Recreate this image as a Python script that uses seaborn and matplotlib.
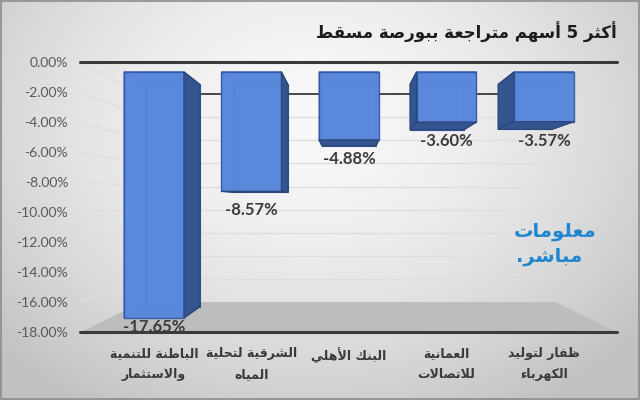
import numpy as np
import pandas as pd
import matplotlib
matplotlib.use("Agg")
import matplotlib.pyplot as plt
import seaborn as sns
from matplotlib.patches import Polygon, Rectangle

# ---------------- data ----------------
categories = ["الباطنة للتنمية\nوالاستثمار", "الشرقية لتحلية\nالمياه", "البنك الأهلي",
              "العمانية\nللاتصالات", "ظفار لتوليد\nالكهرباء"]
values = [-17.65, -8.57, -4.88, -3.60, -3.57]
value_labels = ["-17.65%", "-8.57%", "-4.88%", "-3.60%", "-3.57%"]
y_ticks = [0, -2, -4, -6, -8, -10, -12, -14, -16, -18]
y_tick_labels = ["0.00%", "-2.00%", "-4.00%", "-6.00%", "-8.00%", "-10.00%",
                 "-12.00%", "-14.00%", "-16.00%", "-18.00%"]
title_text = "أكثر 5 أسهم متراجعة ببورصة مسقط"
logo_lines = ["معلومات", "مباشر."]

# ---------------- minimal Arabic shaping (presentation forms + RTL) ----------------
DUAL = {'ئ': 0xFE89, 'ب': 0xFE8F, 'ت': 0xFE95, 'ث': 0xFE99, 'ج': 0xFE9D, 'ح': 0xFEA1,
        'خ': 0xFEA5, 'س': 0xFEB1, 'ش': 0xFEB5, 'ص': 0xFEB9, 'ض': 0xFEBD, 'ط': 0xFEC1,
        'ظ': 0xFEC5, 'ع': 0xFEC9, 'غ': 0xFECD, 'ف': 0xFED1, 'ق': 0xFED5, 'ك': 0xFED9,
        'ل': 0xFEDD, 'م': 0xFEE1, 'ن': 0xFEE5, 'ه': 0xFEE9, 'ي': 0xFEF1}
RIGHT = {'آ': 0xFE81, 'أ': 0xFE83, 'ؤ': 0xFE85, 'إ': 0xFE87, 'ا': 0xFE8D, 'ة': 0xFE93,
         'د': 0xFEA9, 'ذ': 0xFEAB, 'ر': 0xFEAD, 'ز': 0xFEAF, 'و': 0xFEED, 'ى': 0xFEEF}
NONJ = {'ء': 0xFE80}
LAMALEF = {'آ': 0xFEF5, 'أ': 0xFEF7, 'إ': 0xFEF9, 'ا': 0xFEFB}


def shape_line(text):
    units = []
    i = 0
    while i < len(text):
        c = text[i]
        if c == 'ل' and i + 1 < len(text) and text[i + 1] in LAMALEF:
            units.append(('LA', text[i + 1]))
            i += 2
        else:
            units.append(('C', c))
            i += 1

    def joins_next(u):
        return u[0] == 'C' and u[1] in DUAL

    def joins_prev(u):
        return u[0] == 'LA' or u[1] in DUAL or u[1] in RIGHT

    out = []
    for j, u in enumerate(units):
        prev = units[j - 1] if j > 0 else None
        nxt = units[j + 1] if j + 1 < len(units) else None
        p = prev is not None and joins_next(prev) and joins_prev(u)
        n = nxt is not None and joins_next(u) and joins_prev(nxt)
        k, c = u
        if k == 'LA':
            out.append(chr(LAMALEF[c] + (1 if p else 0)))
        elif c in DUAL:
            out.append(chr(DUAL[c] + (3 if (p and n) else 1 if p else 2 if n else 0)))
        elif c in RIGHT:
            out.append(chr(RIGHT[c] + (1 if p else 0)))
        elif c in NONJ:
            out.append(chr(NONJ[c]))
        else:
            out.append(c)
    return ''.join(reversed(out))


def shape(text):
    return "\n".join(shape_line(t) for t in text.split("\n"))


# ---------------- figure ----------------
sns.set_theme(style="white")
plt.rcParams['font.family'] = ['Lato', 'DejaVu Sans']

W, H = 640, 400
fig = plt.figure(figsize=(6.4, 4), dpi=100)

# background gradient
bg = fig.add_axes([0, 0, 1, 1], zorder=-10)
bg.axis('off')
yy, xx = np.mgrid[0:H, 0:W]
d = np.sqrt(((xx - 310) / 420.0) ** 2 + ((yy - 120) / 330.0) ** 2)
val = np.clip(0.975 - 0.21 * d ** 1.6, 0.76, 0.98)
bg.imshow(np.dstack([val, val, val]), extent=[0, W, H, 0], aspect='auto')
bg.add_patch(Rectangle((0.5, 0.5), W - 1.5, H - 1.5, fill=False, ec='#8c8c8c', lw=1.2))
bg.set_xlim(0, W)
bg.set_ylim(H, 0)

# main axes = front plane of the 3D box
ax = fig.add_axes([80 / W, (H - 332) / H, 537 / W, 270 / H])
ax.set_facecolor('none')
df = pd.DataFrame({'cat': categories, 'val': values})
sns.barplot(data=df, x='cat', y='val', ax=ax, width=0.615, color='#5b8ade',
            saturation=1, zorder=6)
XL, XR = -0.565, 4.556
ax.set_xlim(XL, XR)
ax.set_ylim(-18, 0)

# perspective helpers
VX, VY = 2.0, -9.33
SF, SB, SW = 0.93, 0.84, 0.77


def P(x, y, s):
    return (VX + s * (x - VX), VY + s * (y - VY))


grid_c = '#dedede'
# back wall gridlines + left wall gridlines
for t in y_ticks:
    (x1, y1), (x2, y2) = P(XL, t, SW), P(XR, t, SW)
    if t == 0:
        ax.plot([x1, x2], [y1, y2], color='#3a3a3a', lw=1.3, zorder=2)
    else:
        ax.plot([x1, x2], [y1, y2], color=grid_c, lw=1.0, zorder=1)
    (a1, b1), (a2, b2) = P(XL, t, 1.0), P(XL, t, SW)
    ax.plot([a1, a2], [b1, b2], color=grid_c, lw=1.0, zorder=1)

# floor
floor = [P(XL, -18, 1.0), P(XR, -18, 1.0), P(XR, -18, SW), P(XL, -18, SW)]
ax.add_patch(Polygon(floor, closed=True, fc='#bdbdbd', ec='none', zorder=1.5))

# front edges
ax.plot([XL, XR], [0, 0], color='#3a3a3a', lw=2.2, zorder=8, clip_on=False)
ax.plot([XL, XR], [-18, -18], color='#3a3a3a', lw=2.2, zorder=8, clip_on=False)

# 3D bars built from seaborn's bar geometry
dark = '#34548f'
edge = '#2f56a3'
bars = [p for p in ax.patches if isinstance(p, Rectangle)][:len(values)]
for p, lab in zip(bars, value_labels):
    x0 = p.get_x()
    w = p.get_width()
    v = p.get_y() + p.get_height()
    x1 = x0 + w
    F = {k: P(*xy, SF) for k, xy in {'tl': (x0, 0), 'tr': (x1, 0), 'bl': (x0, v), 'br': (x1, v)}.items()}
    B = {k: P(*xy, SB) for k, xy in {'tl': (x0, 0), 'tr': (x1, 0), 'bl': (x0, v), 'br': (x1, v)}.items()}
    # back face
    ax.add_patch(Polygon([B['tl'], B['tr'], B['br'], B['bl']], closed=True,
                         fc='#5a86d4', ec=edge, lw=0.8, zorder=3))
    faces = {
        'left': ([F['tl'], F['bl'], B['bl'], B['tl']], B['tl'][0] < F['tl'][0]),
        'right': ([F['tr'], F['br'], B['br'], B['tr']], B['tr'][0] > F['tr'][0]),
        'bottom': ([F['bl'], F['br'], B['br'], B['bl']], B['bl'][1] < F['bl'][1]),
        'top': ([F['tl'], F['tr'], B['tr'], B['tl']], B['tl'][1] > F['tl'][1]),
    }
    for name, (pts, visible) in faces.items():
        if visible:
            ax.add_patch(Polygon(pts, closed=True, fc=dark, ec='#2a4578', lw=0.8, zorder=7))
        else:
            ax.add_patch(Polygon(pts, closed=True, fc='#5a86d4', ec=edge, lw=0.6, zorder=3))
    # front face: reuse seaborn's rectangle
    fx0, fy0 = F['tl']
    fx1, fy1 = F['br']
    p.set_xy((fx0, fy0))
    p.set_width(fx1 - fx0)
    p.set_height(fy1 - fy0)
    p.set_alpha(0.86)
    p.set_edgecolor(edge)
    p.set_linewidth(1.0)
    # value label
    bottom_px = 62 + (-fy1) * 15.0
    off_px = min(19.0, 327.0 - bottom_px)
    ax.annotate(lab, xy=((fx0 + fx1) / 2, fy1), xytext=(0, -off_px * 0.72),
                textcoords='offset points', ha='center', va='center',
                fontsize=12, fontweight='bold', color='#3b3b3b', zorder=9,
                annotation_clip=False)

# ticks
tick_pos = [VX + SF * (i - VX) for i in range(len(categories))]
ax.set_xticks(tick_pos)
ax.set_xticklabels([shape(c) for c in categories], fontfamily='DejaVu Sans',
                   fontweight='bold', fontsize=9, color='#3a3a3a', linespacing=1.75)
ax.set_yticks(y_ticks)
ax.set_yticklabels(y_tick_labels, fontsize=10, color='#595959')
ax.tick_params(axis='x', length=0, pad=11)
ax.tick_params(axis='y', length=0, pad=8.5)
ax.set_xlabel('')
ax.set_ylabel('')
for s in ax.spines.values():
    s.set_visible(False)

# title
fig.text(617 / W, 1 - 32 / H, shape(title_text), ha='right', va='center',
         fontsize=12, fontweight='bold', fontfamily='DejaVu Sans', color='#1c1c1c')

# logo
fig.text(555 / W, 1 - 232 / H, shape(logo_lines[0]), ha='center', va='center',
         fontsize=14, fontweight='bold', fontfamily='DejaVu Sans', color='#1f86cf')
fig.text(549 / W, 1 - 256 / H, shape(logo_lines[1]), ha='center', va='center',
         fontsize=14, fontweight='bold', fontfamily='DejaVu Sans', color='#1f86cf')

fig.save = None
fig.savefig('out.png', dpi=100)
